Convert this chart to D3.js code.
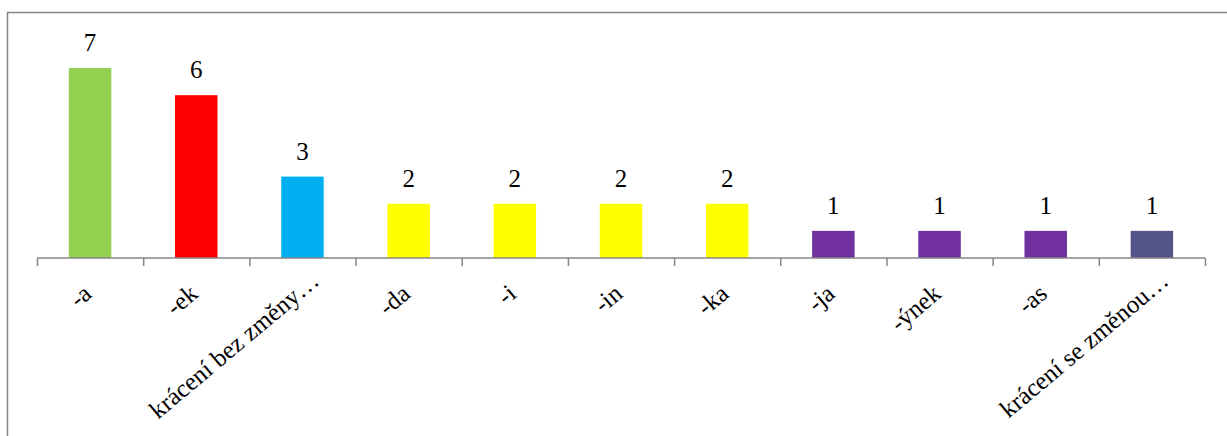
<!DOCTYPE html>
<html><head><meta charset="utf-8">
<script src="https://cdn.jsdelivr.net/npm/d3@7"></script>
<style>body{margin:0;background:#fff}svg{display:block}text{font-family:"Liberation Serif","Times New Roman",Times,serif}</style>
</head><body>
<svg id="c" width="1227" height="436"></svg>
<script>
const categories = ["-a","-ek","krácení bez změny…","-da","-i","-in","-ka","-ja","-ýnek","-as","krácení se změnou…"];
const values = [7,6,3,2,2,2,2,1,1,1,1];
const colors = ["#92D050","#FF0000","#00B0F0","#FFFF00","#FFFF00","#FFFF00","#FFFF00","#7030A0","#7030A0","#7030A0","#535387"];

const svg = d3.select("#c");
svg.append("rect").attr("x",7.5).attr("y",12.5).attr("width",1240).attr("height",440)
  .attr("fill","none").attr("stroke","#868686").attr("stroke-width",1.5);

const x = d3.scaleBand().domain(categories).range([37,1205]).paddingInner(0.6).paddingOuter(0.3);
const y = d3.scaleLinear().domain([0,8]).range([258,40.9]);

svg.selectAll("rect.bar").data(values).join("rect").attr("class","bar")
  .attr("x",(d,i)=>x(categories[i])).attr("width",x.bandwidth())
  .attr("y",d=>y(d)).attr("height",d=>y(0)-y(d)).attr("fill",(d,i)=>colors[i]);

svg.selectAll("text.val").data(values).join("text").attr("class","val")
  .attr("x",(d,i)=>x(categories[i])+x.bandwidth()/2).attr("y",d=>y(d)-17)
  .attr("text-anchor","middle").attr("font-size",25)
  .attr("fill","#000").text(d=>d);

const xs = d3.scalePoint().domain(d3.range(categories.length+1)).range([37,1205]);
const axis = d3.axisBottom(xs).tickSize(8).tickFormat("");
const g = svg.append("g").attr("transform","translate(0,258)").call(axis);
g.select(".domain").attr("stroke","#868686").attr("stroke-width",1.5).attr("d","M37,0H1205");
g.selectAll(".tick line").attr("stroke","#868686").attr("stroke-width",1.5);

svg.selectAll("text.cat").data(categories).join("text").attr("class","cat")
  .attr("transform",d=>`translate(${x(d)+x.bandwidth()/2+3},${296}) rotate(-40)`)
  .attr("text-anchor","end").attr("dx",d=>d.endsWith("…")?20:0)
  .attr("font-size",25).attr("fill","#000").text(d=>d);
</script>
</body></html>
